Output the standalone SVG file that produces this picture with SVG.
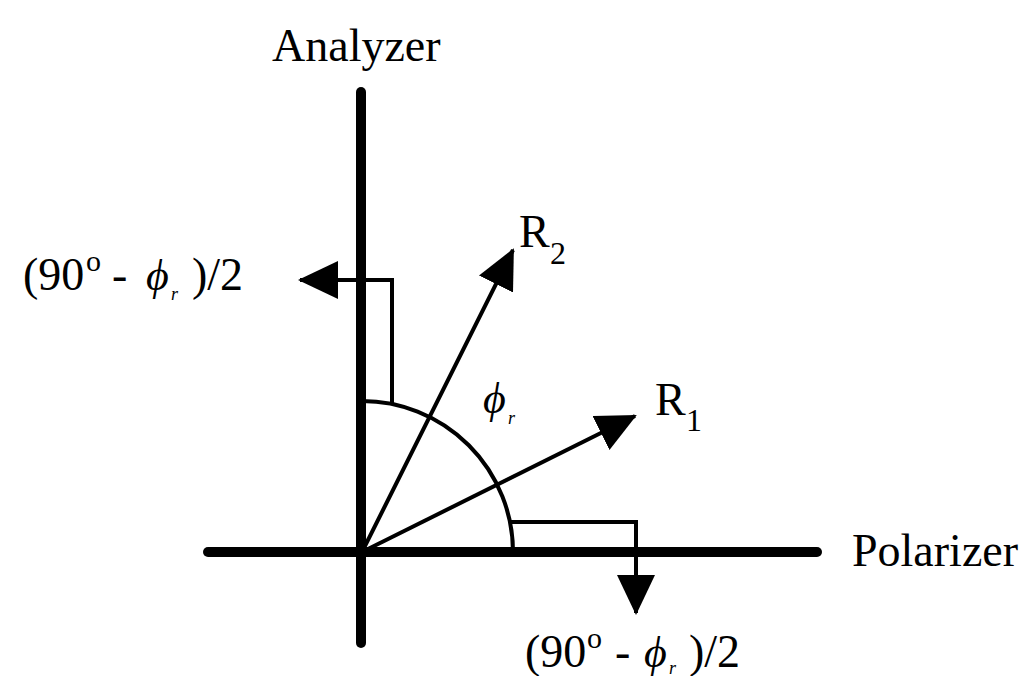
<svg xmlns="http://www.w3.org/2000/svg" width="1026" height="676" viewBox="0 0 1026 676">
<style>
text{font-family:'Liberation Serif','Times New Roman','DejaVu Serif',serif;fill:#000}
.lbl{font-size:46px}
.sup{font-size:32px}
.deg{font-size:30px}
.phi{font-style:italic;font-size:44px}
.sub{font-style:italic;font-size:18px}
.axis{stroke:#000;stroke-width:10;stroke-linecap:round;fill:none}
.thin{stroke:#000;stroke-width:4;fill:none}
</style>
<defs>
<marker id="arr" markerUnits="userSpaceOnUse" markerWidth="42" markerHeight="40" refX="38" refY="19" orient="auto">
<path d="M0,0 L40,19 L0,38 z" fill="#000"/>
</marker>
</defs>
<rect width="1026" height="676" fill="#fff"/>
<g id="axes">
<line class="axis" x1="361" y1="92" x2="361" y2="643"/>
<line class="axis" x1="208" y1="552" x2="817" y2="552"/>
</g>
<g id="connectors">
<path class="thin" d="M362,401 A151,151 0 0 1 513,552"/>
<path class="thin" d="M392,403 L392,280 L300,280" marker-end="url(#arr)"/>
<path class="thin" d="M511,522 L636,522 L636,613" marker-end="url(#arr)"/>
<path class="thin" d="M362,552 L513,250" marker-end="url(#arr)"/>
<path class="thin" d="M362,552 L635,416" marker-end="url(#arr)"/>
</g>
<g id="analyzer"><text class="lbl" x="272" y="61">Analyzer</text></g>
<g id="polarizer"><text class="lbl" x="852" y="566">Polarizer</text></g>
<g id="r2"><text class="lbl" x="519" y="247">R<tspan class="sup" x="550" y="264">2</tspan></text></g>
<g id="r1"><text class="lbl" x="655" y="415">R<tspan class="sup" x="686" y="431">1</tspan></text></g>
<g id="phi"><text class="phi" x="483" y="413">ϕ<tspan class="sub" x="508" y="424">r</tspan></text></g>
<g id="label-left">
<text class="lbl" x="23" y="290">(90</text>
<text class="deg" x="86" y="271">o</text>
<text class="lbl" x="112" y="290">-</text>
<text class="phi" x="146" y="290">ϕ</text>
<text class="sub" x="171" y="300">r</text>
<text class="lbl" x="192" y="290">)/2</text>
</g>
<g id="label-bottom">
<text class="lbl" x="525" y="667">(90</text>
<text class="deg" x="587" y="648">o</text>
<text class="lbl" x="615" y="667">-</text>
<text class="phi" x="644" y="667">ϕ</text>
<text class="sub" x="669" y="674">r</text>
<text class="lbl" x="689" y="667">)/2</text>
</g>
</svg>
